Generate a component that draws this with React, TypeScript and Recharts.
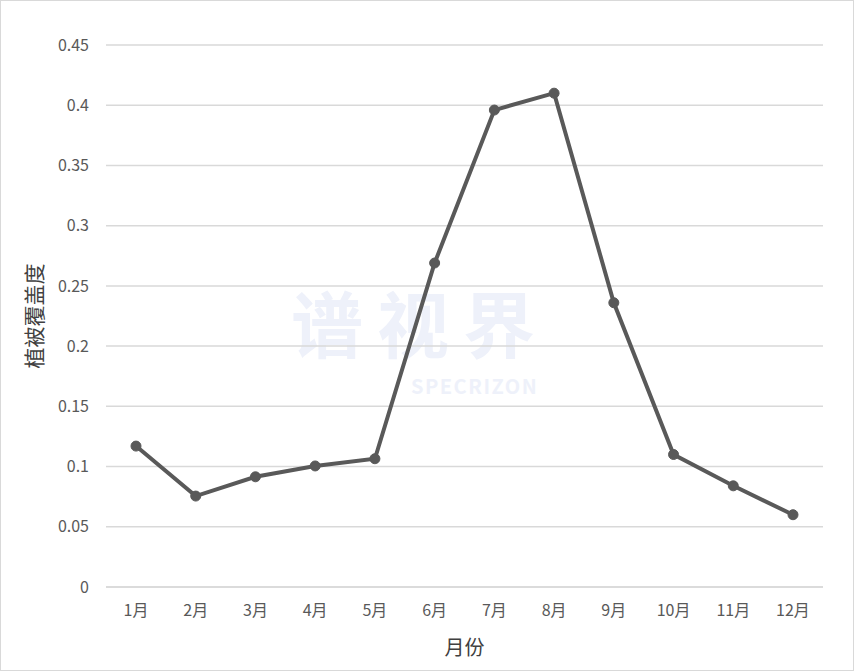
import React from 'react';
import { LineChart, Line, XAxis, YAxis, CartesianGrid } from 'recharts';

const months = ['1月', '2月', '3月', '4月', '5月', '6月', '7月', '8月', '9月', '10月', '11月', '12月'];
const coverage = [0.117, 0.0755, 0.0915, 0.1005, 0.1065, 0.269, 0.396, 0.41, 0.236, 0.11, 0.084, 0.06];
const yTicks = [0, 0.05, 0.1, 0.15, 0.2, 0.25, 0.3, 0.35, 0.4, 0.45];

const data = months.map((m, i) => ({ month: m, value: coverage[i] }));

const FONT = '"Noto Sans CJK SC", "Noto Sans", sans-serif';

export default function App() {
  return (
    <div style={{ position: 'absolute', left: 0, top: 0, width: 854, height: 671, background: '#fff', boxSizing: 'border-box', border: '1.5px solid #d9d9d9', overflow: 'hidden' }}>
      {/* faint watermark */}
      <div style={{ position: 'absolute', left: 290, top: 284, fontFamily: FONT, fontSize: 72, lineHeight: '72px', height: 72, fontWeight: 700, color: '#eef1fa', letterSpacing: 14 }}>谱视界</div>
      <div style={{ position: 'absolute', left: 410, top: 375, fontFamily: FONT, fontSize: 20, lineHeight: '20px', height: 20, fontWeight: 700, color: '#eef1fa', letterSpacing: 1.5 }}>SPECRIZON</div>
      <div style={{ position: 'absolute', left: -1.5, top: -1.5 }}>
        <LineChart width={854} height={671} data={data} margin={{ top: 45, right: 31, left: 0, bottom: 0 }}>
          <CartesianGrid vertical={false} stroke="#d9d9d9" strokeWidth={1.5} />
          <XAxis
            dataKey="month"
            height={84}
            padding={{ left: 30, right: 30 }}
            axisLine={{ stroke: '#d9d9d9', strokeWidth: 1.5 }}
            tickLine={false}
            tickSize={0}
            tickMargin={18}
            tick={{ fill: '#595959', fontSize: 16, fontFamily: FONT }}
            interval={0}
            label={{ value: '月份', position: 'insideBottom', offset: 16, fill: '#404040', fontSize: 20, fontFamily: FONT }}
          />
          <YAxis
            width={106}
            domain={[0, 0.45]}
            ticks={yTicks}
            axisLine={false}
            tickLine={false}
            tickSize={0}
            tickMargin={17}
            tick={{ fill: '#595959', fontSize: 16, fontFamily: FONT }}
            label={{ value: '植被覆盖度', angle: -90, position: 'insideLeft', offset: 35, fill: '#404040', fontSize: 21, fontFamily: FONT, style: { textAnchor: 'middle' } }}
          />
          <Line
            type="linear"
            dataKey="value"
            stroke="#595959"
            strokeWidth={4}
            dot={{ r: 5, fill: '#595959', stroke: '#595959', strokeWidth: 1 }}
            isAnimationActive={false}
          />
        </LineChart>
      </div>
    </div>
  );
}
